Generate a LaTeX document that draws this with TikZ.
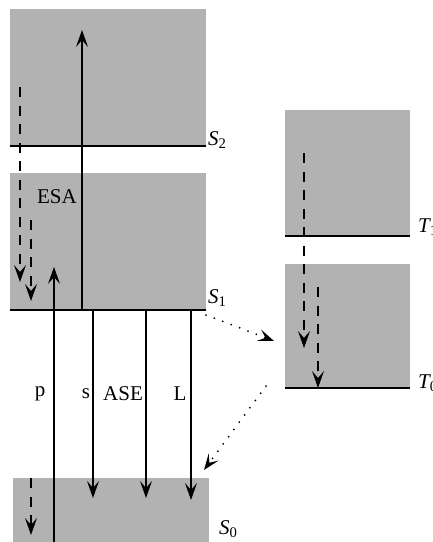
\documentclass[tikz,border=0pt]{standalone}
\usepackage{fontspec}
\setmainfont{Liberation Serif}
\usetikzlibrary{arrows.meta,positioning}

\begin{document}
\begin{tikzpicture}[
  x=1pt, y=-1pt,
  every node/.style={font=\fontsize{21}{24}\selectfont, inner sep=0pt},
  band/.style={rectangle, fill=black!30, draw=none, anchor=south west},
  level/.style={line width=2.6pt},
  lvllabel/.style={anchor=west, font=\fontsize{21}{24}\selectfont\itshape},
  trans/.style={line width=1.4pt, -{Stealth[length=17pt, width=12pt, inset=7pt]}},
  relax/.style={trans, dash pattern=on 10pt off 8.5pt},
  cross/.style={line width=2pt, line cap=round, dash pattern=on 0pt off 9pt, -{Stealth[length=16pt, width=12pt, inset=7pt]}}
]
\useasboundingbox (0,0) rectangle (433,542);

% --- SINGLET BANDS ---
\node[band, minimum width=196pt, minimum height=137pt] (S2box) at (10,146) {};
\node[band, minimum width=196pt, minimum height=137pt] (S1box) at (10,310) {};
\node[band, minimum width=196pt, minimum height=70pt] (S0box) at (13,548) {};
\draw[level] (S2box.south west) -- (S2box.south east);
\draw[level] (S1box.south west) -- (S1box.south east);
\node[lvllabel] (S2) at (208,140) {S\textsubscript{\upshape 2}};
\node[lvllabel] (S1) at (208,298) {S\textsubscript{\upshape 1}};
\node[lvllabel] (S0) at (219,529) {S\textsubscript{\upshape 0}};

% --- TRIPLET BANDS ---
\node[band, minimum width=125pt, minimum height=126pt] (T1box) at (285,236) {};
\node[band, minimum width=125pt, minimum height=124pt] (T0box) at (285,388) {};
\draw[level] (T1box.south west) -- (T1box.south east);
\draw[level] (T0box.south west) -- (T0box.south east);
\node[lvllabel] (T1) at (418,227) {T\textsubscript{\upshape 1}};
\node[lvllabel] (T0) at (418,383) {T\textsubscript{\upshape 0}};

% --- ABSORPTION AND EMISSION ---
\coordinate (esa0) at (82,310);  \coordinate (esa1) at (82,30);
\coordinate (p0) at (54,545);    \coordinate (p1) at (54,267);
\coordinate (s0) at (93,310);    \coordinate (s1) at (93,498);
\coordinate (ase0) at (146,310); \coordinate (ase1) at (146,498);
\coordinate (L0) at (191,310);   \coordinate (L1) at (191,500);
\draw[trans] (esa0) -- (esa1);
\draw[trans] (p0) -- (p1);
\draw[trans] (s0) -- (s1);
\draw[trans] (ase0) -- (ase1);
\draw[trans] (L0) -- (L1);
\node (esa) at (57,197) {ESA};
\node (p) at (40,394) {p};
\node (s) at (86,394) {s};
\node (ase) at (123,394) {ASE};
\node (L) at (180,394) {L};

% --- NONRADIATIVE RELAXATION ---
\coordinate (r1a) at (20,87);   \coordinate (r1b) at (20,282);
\coordinate (r2a) at (31,220);  \coordinate (r2b) at (31,301);
\coordinate (r3a) at (31,478);  \coordinate (r3b) at (31,535);
\coordinate (r4a) at (304,153); \coordinate (r4b) at (304,348);
\coordinate (r5a) at (318,287); \coordinate (r5b) at (318,388);
\draw[relax] (r1a) -- (r1b);
\draw[relax] (r2a) -- (r2b);
\draw[relax] (r3a) -- (r3b);
\draw[relax] (r4a) -- (r4b);
\draw[relax] (r5a) -- (r5b);

% --- INTERSYSTEM CROSSING ---
\coordinate (isc0) at (206,315); \coordinate (isc1) at (274,341);
\coordinate (isc2) at (266,386); \coordinate (isc3) at (204,470);
\draw[cross] (isc0) -- (isc1);
\draw[cross] (isc2) -- (isc3);

\end{tikzpicture}
\end{document}
